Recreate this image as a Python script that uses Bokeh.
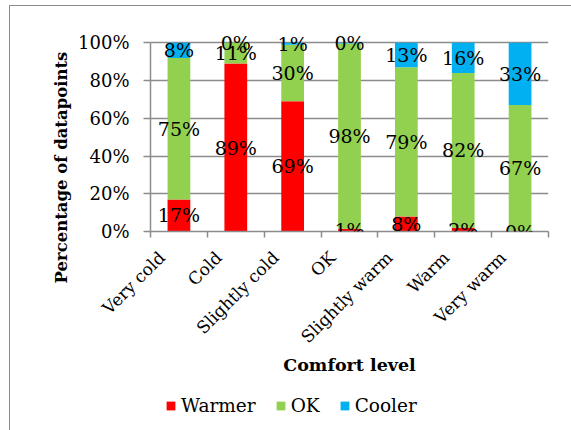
import numpy as np
from bokeh.plotting import figure
from bokeh.layouts import column
from bokeh.models import (ColumnDataSource, Range1d, FixedTicker, PrintfTickFormatter,
                          LabelSet, Legend, LegendItem, Title)
from bokeh.core.properties import value
from bokeh.embed import file_html
from bokeh.resources import INLINE

categories = ["Very cold", "Cold", "Slightly cold", "OK", "Slightly warm", "Warm", "Very warm"]
series = ["Warmer", "OK", "Cooler"]
warmer = [17, 89, 69, 1.4, 8, 2, 0]
ok = [75, 11, 30, 98.2, 79, 82, 67]
cooler = [8, 0, 1, 0.4, 13, 16, 33]
colors = ["#FF0000", "#92D050", "#00B0F0"]
y_ticks = [0, 20, 40, 60, 80, 100]
x_title = "Comfort level"
y_title = "Percentage of datapoints"

FONT = "DejaVu Serif"
GRAY = "#8c8c8c"
LABEL_SHIFT = -0.3    # rotated category labels sit left of the category centre
PAD = 6               # room (in %) above 100% so the top labels are not clipped

n = len(categories)
xpos = list(range(n))
src = ColumnDataSource(dict(x=xpos, Warmer=warmer, OK=ok, Cooler=cooler))

p = figure(width=561, height=374, output_backend="svg", toolbar_location=None,
           x_range=Range1d(-0.5, n - 0.5), y_range=Range1d(0, 100 + PAD),
           x_axis_location="below", y_axis_location="left",
           min_border_left=140, min_border_right=23, min_border_top=25, min_border_bottom=149)
p.outline_line_color = None
p.background_fill_color = "white"
p.border_fill_color = "white"

renderers = p.vbar_stack(series, x="x", width=0.4, color=colors, line_color=None, source=src)

# data labels at segment centres
vals = np.array([warmer, ok, cooler], dtype=float)
cum = np.cumsum(vals, axis=0)
centers = cum - vals / 2.0
lab_x, lab_y, lab_t = [], [], []
for i in range(len(series)):
    for j in range(n):
        lab_x.append(xpos[j])
        lab_y.append(float(centers[i, j]))
        lab_t.append(f"{int(round(vals[i, j]))}%")
lsrc = ColumnDataSource(dict(x=lab_x, y=lab_y, t=lab_t))
p.add_layout(LabelSet(x="x", y="y", text="t", source=lsrc, text_align="center",
                      text_baseline="middle", text_font=value(FONT),
                      text_font_size=value("19px"), text_color="black"))

# grid
p.xgrid.visible = False
p.ygrid.ticker = FixedTicker(ticks=y_ticks)
p.ygrid.grid_line_color = GRAY
p.ygrid.grid_line_width = 1.5

# y axis
ya = p.yaxis[0]
ya.ticker = FixedTicker(ticks=y_ticks)
ya.bounds = (0, 100)
ya.formatter = PrintfTickFormatter(format="%d%%")
ya.axis_line_color = GRAY
ya.axis_line_width = 1.5
ya.major_tick_line_color = GRAY
ya.major_tick_line_width = 1.5
ya.major_tick_out = 7
ya.major_tick_in = 0
ya.minor_tick_line_color = None
ya.major_label_standoff = 14
ya.major_label_text_font = FONT
ya.major_label_text_font_size = "18px"
ya.major_label_text_color = "black"

# x axis: labels near the centres, tick marks between categories
label_ticks = [x + LABEL_SHIFT for x in xpos]
xa = p.xaxis[0]
xa.ticker = FixedTicker(ticks=label_ticks, minor_ticks=[x - 0.5 for x in range(n + 1)])
xa.major_label_overrides = {t: c for t, c in zip(label_ticks, categories)}
xa.axis_line_color = GRAY
xa.axis_line_width = 1.5
xa.major_tick_line_color = None
xa.major_tick_out = 0
xa.major_tick_in = 0
xa.minor_tick_line_color = GRAY
xa.minor_tick_line_width = 1.5
xa.minor_tick_out = 6
xa.minor_tick_in = 0
xa.major_label_orientation = np.pi / 4
xa.major_label_standoff = 17
xa.major_label_text_font = FONT
xa.major_label_text_font_size = "17px"
xa.major_label_text_color = "black"
xa.axis_label = x_title
xa.axis_label_text_font = FONT
xa.axis_label_text_font_style = "bold"
xa.axis_label_text_font_size = "17.5px"
xa.axis_label_text_color = "black"
xa.axis_label_standoff = -2

# y title (shifted down like the original)
p.add_layout(Title(text=y_title, align="left", offset=-52, text_font=FONT,
                   text_font_style="bold", text_font_size="16.5px", text_color="black"),
             "left")

# legend strip below the chart (proxy bars kept entirely outside its visible ranges)
p2 = figure(width=561, height=50, output_backend="svg", toolbar_location=None,
            x_range=Range1d(1000, 1001), y_range=Range1d(1000, 1001),
            x_axis_location=None, y_axis_location=None,
            min_border_left=0, min_border_right=0, min_border_top=0, min_border_bottom=0)
p2.outline_line_color = None
p2.xgrid.visible = False
p2.ygrid.visible = False
proxies = p2.vbar_stack(series, x="x", width=0.4, color=colors, line_color=None, source=src)
legend = Legend(items=[LegendItem(label=s, renderers=[r]) for s, r in zip(series, proxies)],
                orientation="horizontal", location=(15, 14))
legend.glyph_width = 11
legend.glyph_height = 11
legend.label_standoff = 5
legend.spacing = 19
legend.padding = 0
legend.margin = 0
legend.border_line_color = None
legend.background_fill_alpha = 0
legend.label_text_font = FONT
legend.label_text_font_size = "18.5px"
legend.label_text_color = "black"
p2.add_layout(legend, "center")

lay = column(p, p2, spacing=0)
lay.styles = {"margin-left": "9px", "margin-top": "5px",
              "border-left": "1px solid #8c8c8c", "border-top": "1px solid #8c8c8c"}

open("out.html", "w").write(file_html(lay, INLINE))
